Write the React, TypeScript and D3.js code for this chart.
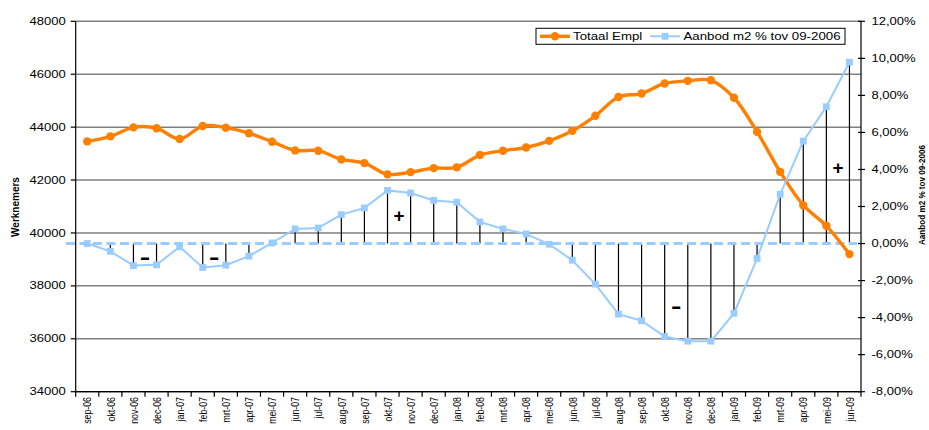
import React from "react";
import * as d3 from "d3";

const categories = [
  "sep-06","okt-06","nov-06","dec-06",
  "jan-07","feb-07","mrt-07","apr-07","mei-07","jun-07","jul-07","aug-07","sep-07","okt-07","nov-07","dec-07",
  "jan-08","feb-08","mrt-08","apr-08","mei-08","jun-08","jul-08","aug-08","sep-08","okt-08","nov-08","dec-08",
  "jan-09","feb-09","mrt-09","apr-09","mei-09","jun-09",
];

const totaalEmpl = [
  43460, 43650, 43990, 43960,
  43550, 44040, 43980, 43770, 43450, 43120, 43110, 42780, 42640, 42215, 42300, 42450,
  42480, 42945, 43110, 43230, 43480, 43860, 44430, 45140, 45270, 45650, 45750, 45770,
  45110, 43820, 42310, 41050, 40270, 39200,
];

const aanbod = [
  0.0, -0.42, -1.19, -1.15,
  -0.18, -1.29, -1.17, -0.68, 0.03, 0.79, 0.84, 1.56, 1.92, 2.87, 2.73, 2.33,
  2.23, 1.17, 0.79, 0.52, -0.04, -0.9, -2.19, -3.81, -4.17, -5.02, -5.27, -5.27,
  -3.77, -0.81, 2.66, 5.53, 7.39, 9.79,
];

const leftTicks = [34000, 36000, 38000, 40000, 42000, 44000, 46000, 48000];
const rightTicks = [-8, -6, -4, -2, 0, 2, 4, 6, 8, 10, 12];

// sign annotations: placed at the right edge of a category band, at a right-axis value
const signs = [
  { text: "-", after: "nov-06", value: -0.7 },
  { text: "-", after: "feb-07", value: -0.7 },
  { text: "+", after: "okt-07", value: 1.5 },
  { text: "-", after: "okt-08", value: -3.35 },
  { text: "+", after: "mei-09", value: 4.1 },
];

const seriesNames = ["Totaal Empl", "Aanbod m2 % tov 09-2006"];
const leftTitle = "Werknemers";
const rightTitle = "Aanbod m2 % tov 09-2006";

const ORANGE = "#FF8000";
const BLUE = "#99CCFF";
const FONT = "Arial, 'Liberation Sans', sans-serif";

const fmtPct = (v: number) => {
  const s = Math.abs(v).toFixed(2).replace(".", ",") + "%";
  return (v < 0 ? "-" : "") + s;
};

export default function App() {
  const W = 929, H = 430;
  const left = 75.7, right = 861, top = 21.3, bottom = 391.7;
  const x = d3.scaleBand<string>().domain(categories).range([left, right]);
  const bw = x.bandwidth();
  const cx = (c: string) => (x(c) as number) + bw / 2;
  const yL = d3.scaleLinear().domain([34000, 48000]).range([bottom, top]);
  const yR = d3.scaleLinear().domain([-8, 12]).range([bottom, top]);

  const orangeLine = d3.line<number>().x((_, i) => cx(categories[i])).y((d) => yL(d));
  const orangePath = orangeLine.curve(d3.curveCatmullRom.alpha(0.5))(totaalEmpl) || "";
  const blueLine = d3.line<number>().x((_, i) => cx(categories[i])).y((d) => yR(d));
  const bluePath = blueLine(aanbod) || "";

  const sx = 1.24;

  return (
    <svg width={W} height={H} style={{ position: "absolute", left: 0, top: 0, background: "#fff" }} fontFamily={FONT}>
      <rect x={0} y={0} width={W} height={H} fill="#fff" />
      {/* gridlines */}
      {leftTicks.map((t) => (
        <line key={"g" + t} x1={left} x2={right} y1={yL(t)} y2={yL(t)} stroke="#808080" strokeWidth={1.5} />
      ))}
      {/* drop lines */}
      {aanbod.map((v, i) =>
        v !== 0 ? (
          <line key={"d" + i} x1={cx(categories[i])} x2={cx(categories[i])} y1={yR(0)} y2={yR(v)} stroke="#000" strokeWidth={1.2} />
        ) : null
      )}
      {/* zero dashed line */}
      <line x1={66} x2={857} y1={yR(0)} y2={yR(0)} stroke={BLUE} strokeWidth={3} strokeDasharray="9,4.5" />
      {/* axes */}
      <line x1={left} x2={left} y1={top} y2={bottom} stroke="#000" strokeWidth={1.2} />
      <line x1={right} x2={right} y1={top} y2={bottom} stroke="#000" strokeWidth={1.2} />
      <line x1={left} x2={right} y1={bottom} y2={bottom} stroke="#000" strokeWidth={1.2} />
      {leftTicks.map((t) => (
        <g key={"lt" + t}>
          <line x1={left - 5} x2={left} y1={yL(t)} y2={yL(t)} stroke="#000" strokeWidth={1.2} />
          <text transform={`translate(${left - 10},${yL(t)}) scale(${sx},1)`} textAnchor="end" dominantBaseline="central" fontSize={10.5} fill="#000">
            {String(t)}
          </text>
        </g>
      ))}
      {rightTicks.map((t) => (
        <g key={"rt" + t}>
          <line x1={right - 3} x2={right + 4} y1={yR(t)} y2={yR(t)} stroke="#000" strokeWidth={1.2} />
          <text transform={`translate(${871.5},${yR(t)}) scale(${sx},1)`} textAnchor="start" dominantBaseline="central" fontSize={10.5} fill="#000">
            {fmtPct(t)}
          </text>
        </g>
      ))}
      {categories.map((c, i) => (
        <g key={"xt" + c}>
          <line x1={(x(c) as number) + bw} x2={(x(c) as number) + bw} y1={bottom} y2={bottom + 5} stroke="#000" strokeWidth={1.2} />
          {i === 0 ? <line x1={left} x2={left} y1={bottom} y2={bottom + 5} stroke="#000" strokeWidth={1.2} /> : null}
          <text transform={`translate(${cx(c) + 0.5},${397}) scale(1.15,1) rotate(-90)`} textAnchor="end" dominantBaseline="central" fontSize={8.8} fill="#000">
            {c}
          </text>
        </g>
      ))}
      {/* series */}
      <path d={orangePath} fill="none" stroke={ORANGE} strokeWidth={3.4} strokeLinejoin="round" />
      {totaalEmpl.map((v, i) => (
        <circle key={"o" + i} cx={cx(categories[i])} cy={yL(v)} r={4.2} fill={ORANGE} />
      ))}
      <path d={bluePath} fill="none" stroke={BLUE} strokeWidth={2} />
      {aanbod.map((v, i) => (
        <rect key={"b" + i} x={cx(categories[i]) - 3.4} y={yR(v) - 3.4} width={6.8} height={6.8} fill={BLUE} />
      ))}
      {/* sign annotations */}
      {signs.map((s, i) => (
        <text key={"s" + i} transform={`translate(${(x(s.after) as number) + bw},${yR(s.value)}) scale(${s.text === "-" ? 1.5 : 1.05},1)`} textAnchor="middle" dominantBaseline="central" fontSize={s.text === "-" ? 21 : 18} fontWeight="bold" fill="#000">
          {s.text}
        </text>
      ))}
      {/* axis titles */}
      <text transform={`translate(15,207) rotate(-90)`} textAnchor="middle" dominantBaseline="central" fontSize={10} fontWeight="bold" fill="#000">
        {leftTitle}
      </text>
      <text transform={`translate(921.5,195) scale(1.05,1) rotate(-90)`} textAnchor="middle" dominantBaseline="central" fontSize={9} fontWeight="bold" fill="#000" textLength={100} lengthAdjust="spacingAndGlyphs">
        {rightTitle}
      </text>
      {/* legend */}
      <rect x={536} y={28.3} width={309} height={16} fill="#fff" stroke="#000" strokeWidth={1} />
      <line x1={540} x2={570} y1={36.3} y2={36.3} stroke={ORANGE} strokeWidth={3.4} />
      <circle cx={555} cy={36.3} r={4.2} fill={ORANGE} />
      <text transform={`translate(573,36.8) scale(${sx},1)`} dominantBaseline="central" fontSize={10.7} fill="#000">
        {seriesNames[0]}
      </text>
      <line x1={650} x2={680} y1={36.3} y2={36.3} stroke={BLUE} strokeWidth={2} />
      <rect x={665 - 3.4} y={36.3 - 3.4} width={6.8} height={6.8} fill={BLUE} />
      <text transform={`translate(683.5,36.8) scale(${sx},1)`} dominantBaseline="central" fontSize={10.7} fill="#000">
        {seriesNames[1]}
      </text>
    </svg>
  );
}
